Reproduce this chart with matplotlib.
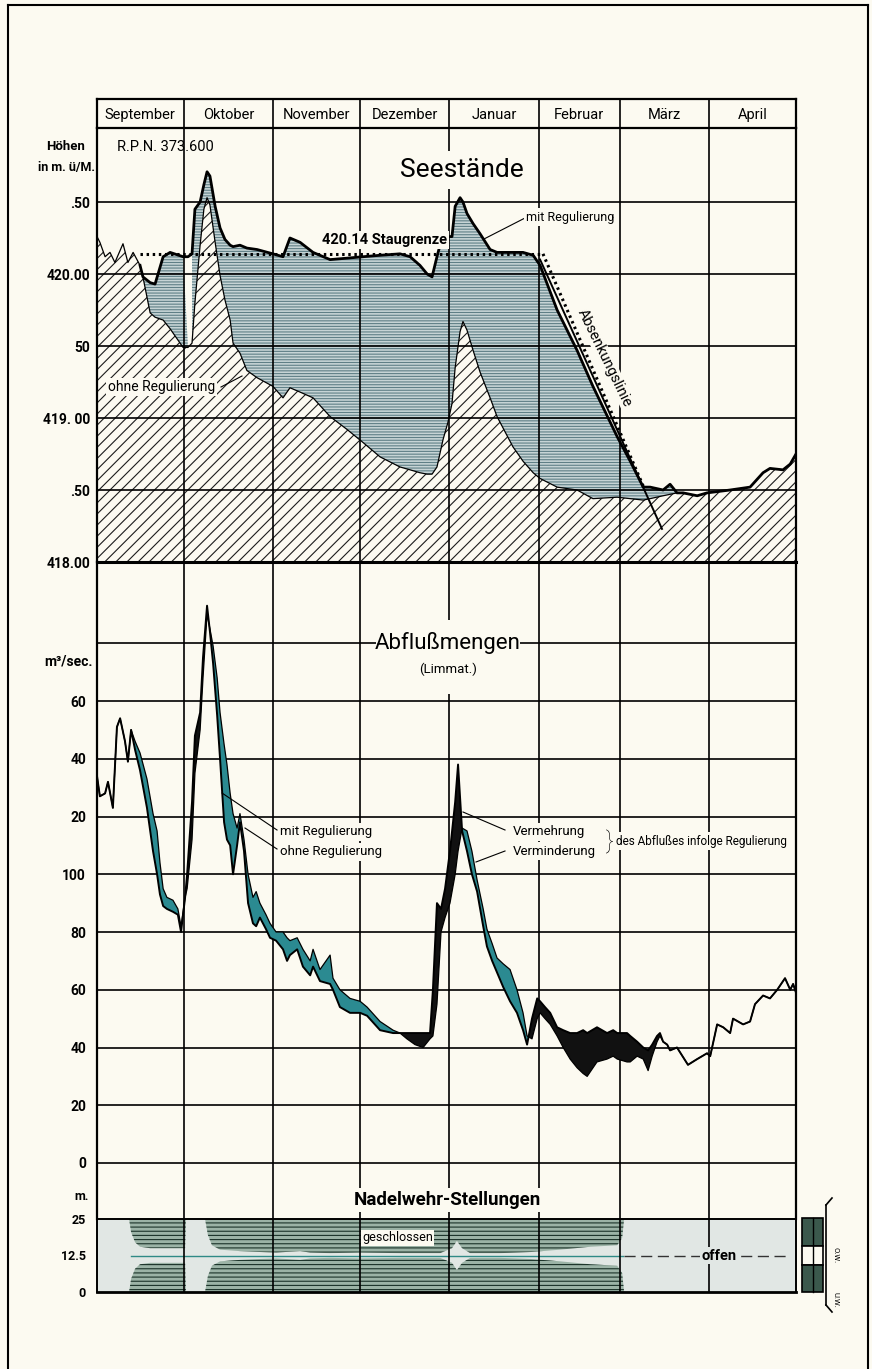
import numpy as np
import matplotlib.pyplot as plt
from matplotlib import font_manager
from matplotlib.patches import Rectangle
from matplotlib.lines import Line2D

W, H = 872, 1369
BG = '#fcfaf1'

names = {f.name for f in font_manager.fontManager.ttflist}
FONT = 'Liberation Sans Narrow' if 'Liberation Sans Narrow' in names else 'Roboto'
plt.rcParams['font.family'] = [FONT, 'DejaVu Sans']
plt.rcParams['hatch.linewidth'] = 0.8

# Monate (Sept. bis April), Tage seit 1. September
monate = ['September', 'Oktober', 'November', 'Dezember', 'Januar', 'Februar', 'März', 'April']
tage = [30, 31, 30, 31, 31, 28, 31, 30]
grenzen = np.concatenate([[0], np.cumsum(tage)])

# Seestände (m ü. M.)
see_tag = [0, 1.0, 2.8, 4.5, 6.2, 9.0, 10.7, 12.5, 14.9, 15.9, 18.4, 20.1, 22.9, 25.3, 29.8,
           31.5, 32.9, 33.9, 35.7, 37.0, 38.1, 39.1, 40.9, 42.6, 44.3, 46.1, 47.1, 49.5, 51.9,
           55.4, 60.9, 64.4, 66.8, 70.3, 74.8, 80.7, 86.6, 92.1, 98.0, 104.9, 108.4, 111.8,
           114.3, 116.0, 117.7, 119.8, 121.5, 122.9, 124.0, 125.7, 126.7, 128.1, 130.2, 132.6,
           136.1, 138.5, 144.0, 147.5, 151.0, 153.4, 159.3, 166.2, 171.7, 180.1, 184.6, 189.1,
           191.5, 196.0, 198.4, 200.8, 202.9, 207.8, 211.2, 219.2, 226.1, 230.6, 233.0, 237.5,
           240.0, 242.0]
see_ohne = [420.26, 420.22, 420.12, 420.15, 420.08, 420.21, 420.08, 420.15, 420.06, 419.98,
            419.73, 419.70, 419.68, 419.62, 419.49, 419.49, 419.52, 419.80, 420.20, 420.45,
            420.53, 420.48, 420.22, 419.99, 419.82, 419.68, 419.52, 419.45, 419.33, 419.28,
            419.22, 419.14, 419.21, 419.18, 419.14, 419.01, 418.92, 418.83, 418.73, 418.66,
            418.64, 418.62, 418.61, 418.61, 418.66, 418.85, 418.97, 419.10, 419.35, 419.60,
            419.67, 419.61, 419.47, 419.32, 419.14, 419.01, 418.80, 418.70, 418.62, 418.58,
            418.52, 418.50, 418.44, 418.45, 418.44, 418.43, 418.44, 418.46, 418.47, 418.48,
            418.48, 418.46, 418.48, 418.50, 418.52, 418.62, 418.65, 418.64, 418.68, 418.75]
see_mit = [420.26, 420.22, 420.12, 420.15, 420.08, 420.21, 420.08, 420.15, 420.06, 419.98,
           419.94, 419.93, 420.12, 420.15, 420.12, 420.12, 420.14, 420.45, 420.50, 420.62,
           420.71, 420.68, 420.47, 420.32, 420.24, 420.20, 420.19, 420.20, 420.18, 420.17,
           420.14, 420.12, 420.25, 420.22, 420.15, 420.10, 420.11, 420.12, 420.13, 420.14,
           420.12, 420.06, 420.00, 419.98, 420.12, 420.28, 420.26, 420.26, 420.47, 420.53,
           420.50, 420.42, 420.35, 420.28, 420.17, 420.15, 420.15, 420.15, 420.13, 420.06,
           419.75, 419.47, 419.22, 418.87, 418.70, 418.52, 418.52, 418.50, 418.54, 418.48,
           418.48, 418.46, 418.48, 418.50, 418.52, 418.62, 418.65, 418.64, 418.68, 418.75]
luecke_tag = 31.5          # weißer Streifen Anfang Oktober
stau_tag = [14.9, 154.4]
stau_hoehe = [420.14, 420.14]
absenk_tag = [154.4, 189.7]
absenk_hoehe = [420.14, 418.50]
absenk_gerade_tag = [153.4, 195.6]
absenk_gerade_hoehe = [420.10, 418.23]

# Abflußmengen der Limmat (m3/sec)
q_tag = [0.0, 1.0, 2.8, 3.8, 5.5, 6.9, 8.0, 9.7, 10.7, 11.8, 13.2, 14.9, 17.3, 19.4, 20.8, 21.8,
         22.9, 24.2, 26.3, 28.0, 29.1, 30.5, 31.2, 32.9, 33.9, 35.7, 36.7, 38.1, 39.1, 40.2,
         41.6, 42.6, 44.0, 45.0, 46.1, 47.1, 48.5, 49.5, 50.9, 52.3, 54.0, 55.1, 56.4, 58.5,
         59.9, 62.0, 64.4, 65.8, 66.8, 69.3, 71.3, 73.8, 74.8, 77.2, 80.7, 81.7, 84.1, 87.6,
         91.1, 93.5, 98.0, 102.5, 104.9, 107.3, 110.1, 112.9, 115.3, 116.3, 117.7, 119.1,
         120.5, 122.2, 124.0, 125.0, 126.4, 128.1, 129.8, 131.6, 133.7, 135.0, 136.8, 138.5,
         140.6, 143.0, 145.4, 147.5, 148.9, 150.6, 152.4, 153.4, 155.1, 156.9, 159.3, 161.4,
         163.8, 166.2, 168.3, 169.7, 173.1, 176.6, 178.7, 180.1, 183.5, 184.6, 187.0, 189.1,
         190.8, 192.2, 193.9, 194.9, 196.0, 197.4, 198.4, 200.8, 204.6, 207.8, 211.2, 212.3,
         214.7, 216.8, 219.2, 220.2, 223.7, 226.1, 227.8, 230.6, 233.0, 235.5, 238.2, 240.0,
         241.0, 242.0]
q_ohne = [134, 127, 128, 132, 123, 151, 154, 146, 139, 150, 146, 142, 133, 121, 115, 104,
          95, 92, 91, 88, 82, 92, 95, 112, 135, 150, 168, 190, 185, 179,
          168, 156, 145, 138, 128, 121, 116, 121, 112, 100, 92, 94, 90, 86,
          83, 80, 80, 78, 77, 78, 74, 70, 74, 67, 72, 64, 60, 57,
          56, 54, 49, 46, 45, 43, 41, 40, 43, 44, 55, 80,
          85, 90, 100, 108, 116, 115, 108, 98, 88, 81, 76, 71,
          69, 67, 60, 52, 44, 43, 50, 52, 50, 48, 44, 40,
          36, 33, 31, 30, 35, 36, 37, 36, 35, 35, 37, 36,
          32, 37, 42, 44, 42, 41, 39, 40, 34, 36, 38, 37,
          48, 47, 45, 50, 48, 49, 55, 58, 57, 60, 64, 60,
          62, 59]
q_mit = [134, 127, 128, 132, 123, 151, 154, 146, 139, 150, 143, 136, 123, 108, 100, 93,
         89, 88, 87, 86, 80, 92, 100, 125, 148, 156, 175, 193, 184, 173,
         155, 140, 118, 112, 110, 100, 110, 118, 108, 90, 83, 82, 85, 81,
         78, 77, 74, 70, 72, 74, 68, 65, 68, 63, 62, 60, 54, 52,
         52, 51, 46, 45, 45, 45, 45, 45, 45, 60, 90, 88,
         95, 108, 125, 138, 115, 108, 100, 94, 82, 75, 70, 66,
         61, 56, 52, 46, 41, 50, 57, 56, 54, 52, 47, 46,
         45, 45, 46, 45, 47, 45, 46, 45, 45, 44, 42, 40,
         39, 41, 44, 45, 42, 41, 39, 40, 34, 36, 38, 37,
         48, 47, 45, 50, 48, 49, 55, 58, 57, 60, 64, 60,
         62, 59]

# Nadelwehr: halbe Öffnung um die Mitte (m), 0 = geschlossen, 12.5 = offen
wehr_tag = [0, 11.1, 11.8, 13.2, 14.9, 18.4, 30.5, 30.8, 37.4, 38.4, 39.8, 42.6, 49.5, 56.4,
            62.0, 70.3, 73.8, 80.7, 91.1, 104.9, 118.8, 122.9, 124.6, 126.4, 129.2, 139.5,
            150.3, 160.4, 170.8, 180.1, 181.8, 182.5, 242.0]
wehr_offen = [12.5, 12.5, 8, 4.5, 3, 2.5, 2.5, 12.5, 12.5, 7, 3.5, 2, 1.5, 1.2,
              1.0, 1.5, 1.0, 0.8, 1.0, 0.8, 0.8, 2.5, 5, 2.5, 0.8, 0.8,
              1.2, 2, 3, 3.5, 6, 12.5, 12.5]

see_tag, see_ohne, see_mit = map(np.array, (see_tag, see_ohne, see_mit))
q_tag, q_ohne, q_mit = map(np.array, (q_tag, q_ohne, q_mit))
wehr_tag, wehr_offen = np.array(wehr_tag), np.array(wehr_offen)


def fx(x):
    return x / W


def fy(y):
    return 1 - y / H


def leader(x1, y1, x2, y2, lw=0.8):
    fig.add_artist(Line2D([fx(x1), fx(x2)], [fy(y1), fy(y2)], color='black', lw=lw,
                          transform=fig.transFigure))


fig = plt.figure(figsize=(W / 100, H / 100), dpi=100, facecolor=BG)
L, R = 97, 796
box = dict(facecolor=BG, edgecolor='none', pad=1.5)

# Rahmen
for xs, ys in [([8, 8], [5, H]), ([8, 868], [5, 5]), ([868, 868], [5, H])]:
    fig.add_artist(Line2D([fx(v) for v in xs], [fy(v) for v in ys], color='black', lw=1.5,
                          transform=fig.transFigure))

# Monatsleiste
ax_m = fig.add_axes([fx(L), fy(128), (R - L) / W, (128 - 99) / H])
ax_m.set_xlim(0, grenzen[-1])
ax_m.set_ylim(0, 1)
ax_m.set_facecolor(BG)
ax_m.set_xticks([]); ax_m.set_yticks([])
for s in ax_m.spines.values():
    s.set_linewidth(1.6)
for g in grenzen[1:-1]:
    ax_m.axvline(g, color='black', lw=1.2)
for i, m in enumerate(monate):
    ax_m.text((grenzen[i] + grenzen[i + 1]) / 2, 0.45, m, ha='center', va='center', fontsize=10.5)


def grundachse(ax):
    ax.set_xlim(0, grenzen[-1])
    ax.set_facecolor('none')
    ax.set_xticks(grenzen[1:-1])
    ax.tick_params(axis='x', length=0, labelbottom=False)
    ax.tick_params(axis='y', length=0, labelsize=10)
    ax.grid(axis='x', color='black', lw=1.2)


# Seestände
ax_s = fig.add_axes([fx(L), fy(562), (R - L) / W, (562 - 128) / H])
ax_s.set_ylim(418, 418 + 434 / 144)
ax_s.set_yticks([418.5, 419, 419.5, 420, 420.5, 418.0])
ax_s.set_yticklabels(['.50', '419. 00', '50', '420.00', '.50', '418.00'], fontweight='bold')
grundachse(ax_s)
ax_s.tick_params(axis='y', pad=5)
ax_s.grid(axis='y', color='black', lw=1.2)
ax_s.set_axisbelow(False)
for k, s in ax_s.spines.items():
    s.set_linewidth(2.2 if k == 'bottom' else 1.6)
ax_s.spines['top'].set_visible(False)

blau = (see_mit > see_ohne) & (see_tag != luecke_tag)
ax_s.fill_between(see_tag, 418, see_ohne, facecolor='none', hatch='///', edgecolor='#1c1c1c',
                  lw=0, zorder=1)
ax_s.fill_between(see_tag, see_ohne, see_mit, where=blau, interpolate=True,
                  facecolor='#c6d4d5', hatch='------', edgecolor='#5f7f86', lw=0, zorder=1)
ax_s.plot(see_tag, see_ohne, color='black', lw=0.9, zorder=3)
sel = see_tag >= 14.9
ax_s.plot(see_tag[sel], see_mit[sel], color='black', lw=2.0, zorder=4)
ax_s.plot(stau_tag, stau_hoehe, color='black', lw=2.2, ls=(0, (0.8, 1.2)), zorder=4)
ax_s.plot(absenk_tag, absenk_hoehe, color='black', lw=2.2, ls=(0, (0.8, 1.2)), zorder=4)
ax_s.plot(absenk_gerade_tag, absenk_gerade_hoehe, color='black', lw=1.4, zorder=4)

fig.text(fx(66), fy(147), 'Höhen', ha='center', va='center', fontsize=9.5, fontweight='bold')
fig.text(fx(66), fy(167), 'in m. ü/M.', ha='center', va='center', fontsize=9, fontweight='bold')
fig.text(fx(117), fy(147), 'R.P.N. 373.600', ha='left', va='center', fontsize=10.5)
fig.text(fx(462), fy(170), 'Seestände', ha='center', va='center', fontsize=19,
         bbox=dict(facecolor=BG, edgecolor='none', pad=5))
fig.text(fx(322), fy(240), '420.14 Staugrenze', ha='left', va='center', fontsize=10.5,
         fontweight='bold', bbox=box, zorder=5)
fig.text(fx(526), fy(217), 'mit Regulierung', ha='left', va='center', fontsize=9, bbox=box)
leader(484, 239, 525, 218)
fig.text(fx(108), fy(387), 'ohne Regulierung', ha='left', va='center', fontsize=10, bbox=box)
leader(221, 387, 242, 376)
fig.text(fx(605), fy(358), 'Absenkungslinie', ha='center', va='center', fontsize=10.5,
         rotation=-64, bbox=dict(facecolor=BG, edgecolor='none', pad=0.5), zorder=5)

# Abflußmengen
ax_q = fig.add_axes([fx(L), fy(1219), (R - L) / W, (1219 - 562) / H])
ax_q.set_ylim((1163 - 1219) / 2.8875, (1163 - 562) / 2.8875)
ax_q.set_yticks([0, 20, 40, 60, 80, 100, 120, 140, 160, 180])
ax_q.set_yticklabels(['0', '20', '40', '60', '80', '100', '20', '40', '60', ''], fontweight='bold')
grundachse(ax_q)
ax_q.tick_params(axis='y', pad=8)
ax_q.grid(axis='y', color='black', lw=1.2)
ax_q.set_axisbelow(True)
for k, s in ax_q.spines.items():
    s.set_linewidth(1.6)
ax_q.spines['top'].set_visible(False)
ax_q.spines['bottom'].set_visible(False)

ax_q.fill_between(q_tag, q_mit, q_ohne, where=q_ohne > q_mit, interpolate=True,
                  color='#2b8a91', lw=0, zorder=2)
ax_q.fill_between(q_tag, q_ohne, q_mit, where=q_mit > q_ohne, interpolate=True,
                  color='#111111', lw=0, zorder=2)
ax_q.plot(q_tag, q_ohne, color='black', lw=0.9, zorder=3)
ax_q.plot(q_tag, q_mit, color='black', lw=1.4, zorder=3)

fig.add_artist(Rectangle((fx(376), fy(694)), fx(520) - fx(376), fy(620) - fy(694),
                         facecolor=BG, edgecolor='none', transform=fig.transFigure, zorder=4))
fig.text(fx(448), fy(643), 'Abflußmengen', ha='center', va='center', fontsize=16, zorder=5)
fig.text(fx(448), fy(669), '(Limmat.)', ha='center', va='center', fontsize=9.5, zorder=5)
fig.text(fx(93), fy(661), 'm³/sec.', ha='right', va='center', fontsize=10, fontweight='bold')
fig.text(fx(280), fy(832), 'mit Regulierung', ha='left', va='center', fontsize=9.5, bbox=box)
fig.text(fx(280), fy(852), 'ohne Regulierung', ha='left', va='center', fontsize=9.5, bbox=box)
leader(222, 793, 277, 830)
leader(245, 828, 277, 849)
fig.text(fx(513), fy(832), 'Vermehrung', ha='left', va='center', fontsize=9.5, bbox=box)
fig.text(fx(513), fy(851), 'Verminderung', ha='left', va='center', fontsize=9.5, bbox=box)
leader(463, 812, 505, 830)
leader(476, 862, 505, 851)
fig.text(fx(609), fy(842), '}', ha='center', va='center', fontsize=17, fontweight='light')
fig.text(fx(616), fy(841), 'des Abflußes infolge Regulierung', ha='left', va='center',
         fontsize=8.5, bbox=box)

# Nadelwehr-Stellungen
OFFEN = '#e1e7e4'
ax_w = fig.add_axes([fx(L), fy(1292), (R - L) / W, (1292 - 1219) / H])
ax_w.set_ylim(0, 25)
ax_w.set_yticks([0, 12.5, 25])
ax_w.set_yticklabels(['0', '12.5', '25'], fontweight='bold')
grundachse(ax_w)
ax_w.tick_params(axis='y', pad=8, labelsize=9)
ax_w.set_facecolor(OFFEN)
ax_w.set_axisbelow(False)
for k, s in ax_w.spines.items():
    s.set_linewidth(2.0 if k == 'bottom' else 1.4)
ax_w.fill_between(wehr_tag, 12.5 + wehr_offen, 25, facecolor='#9bb3a6', hatch='----',
                  edgecolor='#1b3329', lw=0, zorder=1)
ax_w.fill_between(wehr_tag, 0, 12.5 - wehr_offen, facecolor='#9bb3a6', hatch='----',
                  edgecolor='#1b3329', lw=0, zorder=1)
ax_w.plot([11.8, 182.0], [12.5, 12.5], color='#2f8a86', lw=1.0, zorder=2)
ax_w.plot([182.5, 238.5], [12.5, 12.5], color='#333333', lw=1.0, ls=(0, (8, 4)), zorder=2)
ax_w.text(215.5, 12.5, 'offen', ha='center', va='center', fontsize=10.5, fontweight='bold',
          bbox=dict(facecolor=OFFEN, edgecolor='none', pad=1), zorder=3)
ax_w.text(104, 18.6, 'geschlossen', ha='center', va='center', fontsize=9,
          bbox=dict(facecolor=BG, edgecolor='none', pad=1), zorder=3)
fig.text(fx(447), fy(1200), 'Nadelwehr-Stellungen', ha='center', va='center', fontsize=13.5,
         fontweight='bold', bbox=dict(facecolor=BG, edgecolor='none', pad=2))
fig.text(fx(89), fy(1197), 'm.', ha='right', va='center', fontsize=9, fontweight='bold')

# kleines Wehrsymbol rechts
for (y0, y1, fc) in [(1218, 1246, '#3b584c'), (1246, 1265, BG), (1265, 1292, '#3b584c')]:
    fig.add_artist(Rectangle((fx(802), fy(y1)), fx(823) - fx(802), fy(y0) - fy(y1),
                             facecolor=fc, edgecolor='black', lw=1.2, transform=fig.transFigure))
leader(813, 1218, 813, 1292, lw=1.0)
leader(826, 1205, 826, 1305, lw=1.2)
leader(826, 1205, 832, 1198, lw=1.2)
leader(826, 1305, 832, 1312, lw=1.2)
fig.text(fx(835), fy(1255), 'O.W.', rotation=-90, ha='center', va='center', fontsize=5.5)
fig.text(fx(835), fy(1300), 'U.W.', rotation=-90, ha='center', va='center', fontsize=5.5)

fig.savefig('out.png', dpi=100, facecolor=BG)
